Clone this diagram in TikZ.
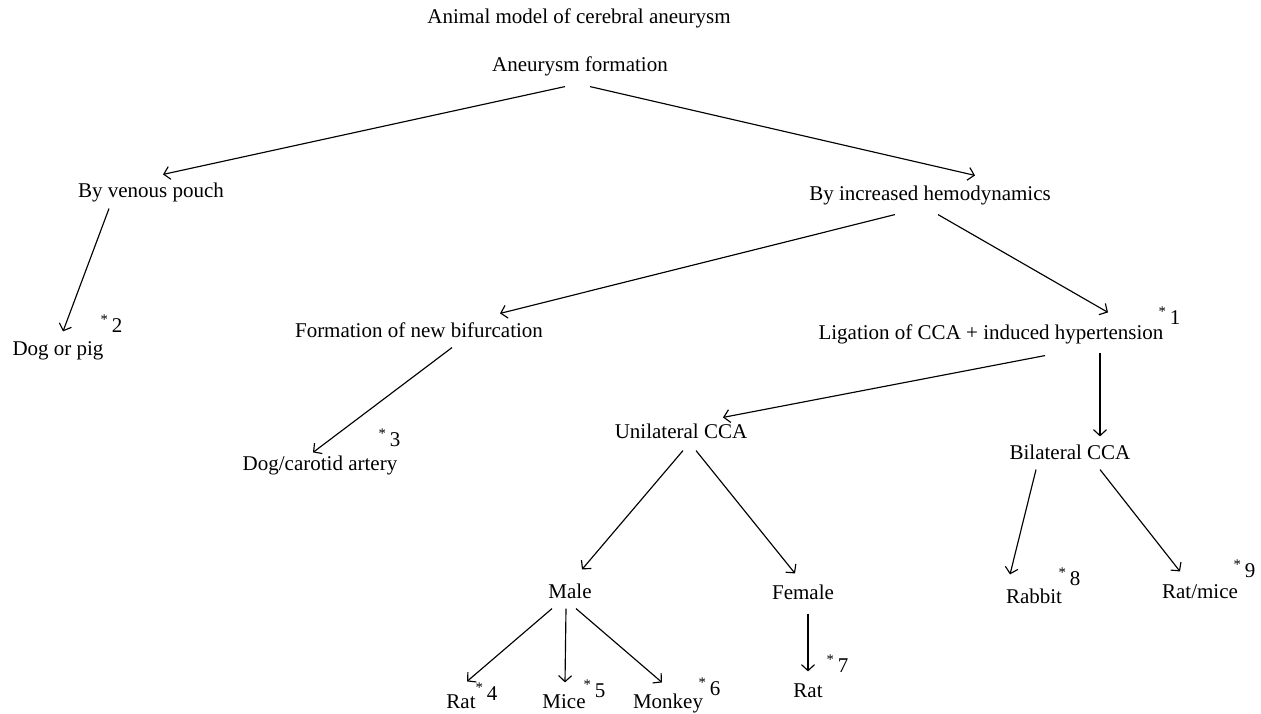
\documentclass[tikz,border=0pt]{standalone}
\usepackage{fontspec}
\setmainfont{Liberation Serif}
\usepackage{tikz}
\usetikzlibrary{arrows.meta}

\begin{document}
\begin{tikzpicture}[x=1pt, y=-1pt, >={Straight Barb[length=6pt,width=13pt]}, line width=1.15pt]
    \tikzstyle{every node} = [font=\fontsize{21}{25}\selectfont, inner sep=0pt, anchor=base, text height=15pt, text depth=5pt]
    \tikzstyle{label} = [anchor=base west, text height=, text depth=]
    \useasboundingbox (0,0) rectangle (1261,714);

    \node (title) at (579,24) {Animal model of cerebral aneurysm};
    \node (aneu) at (580,72) {Aneurysm formation};
    \node (venous) at (151,198) {By venous pouch};
    \node (hemo) at (930,201) {By increased hemodynamics};
    \node (dog) at (58,355) {Dog or pig};
    \node (bif) at (419,337) {Formation of new bifurcation};
    \node (lig) at (991,339) {Ligation of CCA + induced hypertension};
    \node (carotid) at (320,470) {Dog/carotid artery};
    \node (uni) at (681,438) {Unilateral CCA};
    \node (bil) at (1070,459) {Bilateral CCA};
    \node (male) at (570,598) {Male};
    \node (female) at (803,599) {Female};
    \node (rabbit) at (1034,603) {Rabbit};
    \node (ratmice) at (1200,598) {Rat/mice};
    \node (rat1) at (461,708) {Rat};
    \node (mice) at (564,708) {Mice};
    \node (monkey) at (668,708) {Monkey};
    \node (rat2) at (808,697) {Rat};

    % asterisk references
    \node (s1) [label] at (1158,324) {\textsuperscript{*}\,1};
    \node (s2) [label] at (100,332) {\textsuperscript{*}\,2};
    \node (s3) [label] at (378,446) {\textsuperscript{*}\,3};
    \node (s4) [label] at (475,700) {\textsuperscript{*}\,4};
    \node (s5) [label] at (583,697) {\textsuperscript{*}\,5};
    \node (s6) [label] at (698,695) {\textsuperscript{*}\,6};
    \node (s7) [label] at (826,672) {\textsuperscript{*}\,7};
    \node (s8) [label] at (1058,585) {\textsuperscript{*}\,8};
    \node (s9) [label] at (1233,577) {\textsuperscript{*}\,9};

    \draw [->] ([xshift=-15pt,yshift=-9pt]aneu.south) -- ([xshift=12pt,yshift=8pt]venous.north);
    \draw [->] ([xshift=10pt,yshift=-9pt]aneu.south) -- ([xshift=45pt,yshift=10pt]hemo.north);
    \draw [->] ([xshift=-42pt,yshift=-5pt]venous.south) -- ([xshift=5pt,yshift=8pt]dog.north);
    \draw [->] ([xshift=-35pt,yshift=-8pt]hemo.south) -- ([xshift=81pt,yshift=8pt]bif.north);
    \draw [->] ([xshift=8pt,yshift=-8pt]hemo.south) -- ([xshift=117pt,yshift=11pt]lig.north);
    \draw [->] ([xshift=33pt,yshift=-5pt]bif.south) -- ([xshift=-7pt,yshift=2pt]carotid.north);
    \draw [->] ([xshift=54pt,yshift=-11pt]lig.south) -- ([xshift=42pt,yshift=5pt]uni.north);
    \draw [->] ([xshift=109pt,yshift=-8pt]lig.south) -- ([xshift=30pt,yshift=7pt]bil.north);
    \draw [->] ([xshift=2pt,yshift=-7pt]uni.south) -- ([xshift=12pt,yshift=13pt]male.north);
    \draw [->] ([xshift=15pt,yshift=-7pt]uni.south) -- ([xshift=-8pt,yshift=10pt]female.north);
    \draw [->] ([xshift=-34pt,yshift=-5pt]bil.south) -- ([xshift=-24pt,yshift=13pt]rabbit.north);
    \draw [->] ([xshift=30pt,yshift=-5pt]bil.south) -- ([xshift=-20pt,yshift=11pt]ratmice.north);
    \draw [->] ([xshift=-18pt,yshift=-5pt]male.south) -- ([xshift=6pt,yshift=11pt]rat1.north);
    \draw [->] ([xshift=-4pt,yshift=-5pt]male.south) -- ([xshift=1pt,yshift=10pt]mice.north);
    \draw [->] ([xshift=6pt,yshift=-5pt]male.south) -- ([xshift=-6pt,yshift=10pt]monkey.north);
    \draw [->] ([xshift=5pt,yshift=-9pt]female.south) -- ([xshift=0pt,yshift=10pt]rat2.north);
\end{tikzpicture}
\end{document}
